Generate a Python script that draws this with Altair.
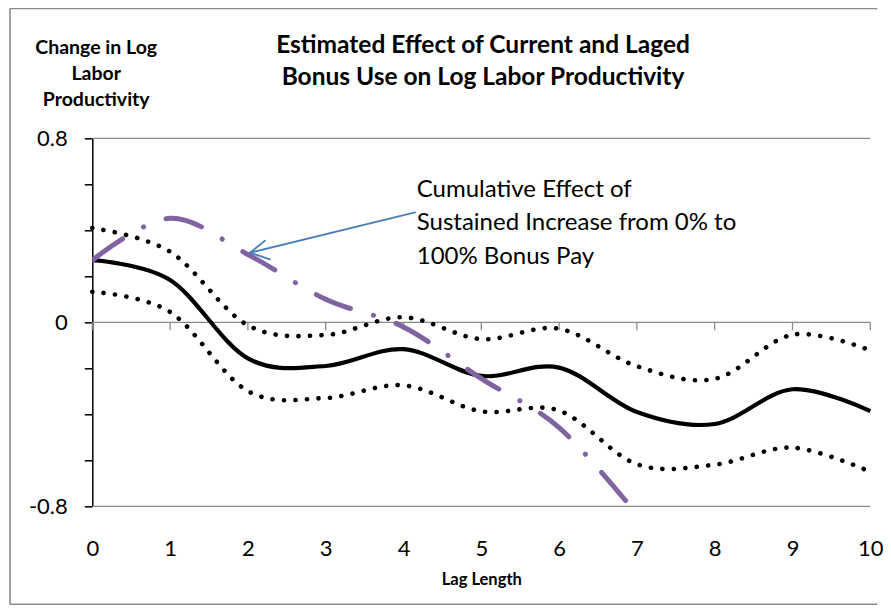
import altair as alt
import pandas as pd

# ---------------- data ----------------
lags = [0, 1, 2, 3, 4, 5, 6, 7, 8, 9, 10]
estimate = [0.27, 0.184, -0.157, -0.19, -0.117, -0.233, -0.197, -0.39, -0.442, -0.291, -0.386]
upper = [0.41, 0.307, -0.013, -0.055, 0.022, -0.073, -0.028, -0.191, -0.246, -0.054, -0.122]
lower = [0.133, 0.045, -0.299, -0.329, -0.274, -0.387, -0.384, -0.617, -0.619, -0.545, -0.65]
cum_lags = [0, 1, 2, 3, 4, 5, 6, 7]
cumulative = [0.27, 0.452, 0.295, 0.10, -0.02, -0.245, -0.458, -0.835]

x_ticks = [0, 1, 2, 3, 4, 5, 6, 7, 8, 9, 10]
y_ticks = [-0.8, -0.6, -0.4, -0.2, 0, 0.2, 0.4, 0.6, 0.8]
y_label_values = [-0.8, 0, 0.8]
y_label_texts = ["-0.8", "0", "0.8"]
h_lines = [0.8, 0, -0.8]

title_lines = ["Estimated Effect of Current and Laged", "Bonus Use on Log Labor Productivity"]
y_title = ["Change in Log", "Labor", "Productivity"]
x_title = "Lag Length"
note_lines = ["Cumulative Effect of", "Sustained Increase from 0% to", "100% Bonus Pay"]

# ---------------- styling / layout ----------------
FONT = "Lato"
GRAY = "#898989"
PURPLE = "#8064A2"
BLUE = "#4A7EBB"
W, H = 778, 368
PAD = {"left": 84.3, "top": 130.3, "right": 12.7, "bottom": 98.7}

xs = alt.Scale(domain=[0, 10], nice=False, zero=False)
ys = alt.Scale(domain=[-0.8, 0.8], nice=False, zero=False)

label_expr = " : ".join(
    f"abs(datum.value - ({v})) < 1e-6 ? '{t}'" for v, t in zip(y_label_values, y_label_texts)
) + " : ''"

x_axis = alt.Axis(values=x_ticks, domain=False, ticks=False, tickSize=0, grid=False,
                  labelPadding=42, labelBaseline="middle", labelFontSize=22, labelFont=FONT,
                  labelColor="black", labelFlush=False, format="d",
                  title=x_title, titleY=73, titleBaseline="middle", titleFontSize=16.5,
                  titleFont=FONT, titleFontWeight="bold", titleColor="black")
y_axis = alt.Axis(values=y_ticks, grid=False, domainColor="black", domainWidth=1.5,
                  tickColor="black", tickSize=8, tickWidth=1.5, labelExpr=label_expr,
                  labelPadding=17, labelFontSize=22, labelFont=FONT, labelColor="black",
                  labelFlush=False, labelBaseline="middle",
                  title=y_title, titleAngle=0, titleX=3.4, titleY=-90.5, titleAlign="center",
                  titleBaseline="middle", titleLineHeight=25.8, titleFontSize=19.5,
                  titleFont=FONT, titleFontWeight="bold", titleColor="black")

X = dict(scale=xs, axis=x_axis)
Y = dict(scale=ys, axis=y_axis)

df = pd.DataFrame({"lag": lags, "estimate": estimate, "upper": upper, "lower": lower})
df_cum = pd.DataFrame({"lag": cum_lags, "cumulative": cumulative})
df_h = pd.DataFrame({"y": h_lines})
df_t = pd.DataFrame({"lag": x_ticks})
one = pd.DataFrame({"_": [0]})

hl = alt.Chart(df_h).mark_rule(color=GRAY, strokeWidth=1.3).encode(
    y=alt.Y("y:Q", **Y),
    x=alt.datum(0, **X), x2=alt.datum(10))

zero_ticks = alt.Chart(df_t).mark_rule(color=GRAY, strokeWidth=1.3).encode(
    x=alt.X("lag:Q", **X),
    y=alt.datum(0, **Y), y2=alt.datum(-0.035))

def band(field):
    return alt.Chart(df).mark_line(interpolate="cardinal", tension=0, color="black",
                                   strokeWidth=4.6, strokeDash=[0.1, 11.4],
                                   strokeCap="round").encode(
        x=alt.X("lag:Q", **X),
        y=alt.Y(f"{field}:Q", **Y))

solid = alt.Chart(df).mark_line(interpolate="cardinal", tension=0, color="black",
                                strokeWidth=4.2).encode(
    x=alt.X("lag:Q", **X),
    y=alt.Y("estimate:Q", **Y))

cum = alt.Chart(df_cum).mark_line(interpolate="cardinal", tension=0, color=PURPLE,
                                  strokeWidth=5, strokeDash=[37, 24, 0.1, 24],
                                  strokeCap="round", clip=True).encode(
    x=alt.X("lag:Q", **X),
    y=alt.Y("cumulative:Q", **Y))

# arrow annotation (data coordinates)
TAIL = (4.148, 0.478)
TIP = (2.027, 0.3026)
ARMS = [(2.22, 0.355), (2.284, 0.274)]

def seg(p, q):
    return alt.Chart(one).mark_rule(color=BLUE, strokeWidth=1.8, strokeCap="round").encode(
        x=alt.datum(p[0], **X), y=alt.datum(p[1], **Y),
        x2=alt.datum(q[0]), y2=alt.datum(q[1]))

arrow = [seg(TAIL, TIP)] + [seg(TIP, a) for a in ARMS]

note = alt.Chart(one).mark_text(font=FONT, fontSize=24, align="left", baseline="middle",
                                lineHeight=33.3, lineBreak="\n", color="black").encode(
    x=alt.datum(4.17, **X), y=alt.datum(0.575, **Y), text=alt.value("\n".join(note_lines)))

title = alt.Chart(one).mark_text(font=FONT, fontSize=24.5, fontWeight="bold", align="center",
                                 baseline="middle", lineHeight=32, lineBreak="\n",
                                 color="black").encode(
    x=alt.value(390.7), y=alt.value(-92.3), text=alt.value("\n".join(title_lines)))

# chart frame (outer border of the Excel chart object)
def frame_rule(**enc):
    return alt.Chart(one).mark_rule(color="#8a8a8a", strokeWidth=1.6).encode(**enc)

frame = [
    frame_rule(x=alt.value(-82.3), y=alt.value(-129.8), y2=alt.value(466.0)),
    frame_rule(x=alt.value(-82.3), x2=alt.value(785), y=alt.value(-129.8)),
    frame_rule(x=alt.value(-82.3), x2=alt.value(785), y=alt.value(466.0)),
]

chart = alt.layer(
    hl, zero_ticks, band("lower"), band("upper"), solid, cum, *arrow, note, title, *frame
).properties(
    width=W, height=H, autosize=alt.AutoSizeParams(type="none"), padding=PAD,
    background="white"
).configure_view(stroke=None)

chart.save("out.html", embed_options={"renderer": "svg", "actions": False})
